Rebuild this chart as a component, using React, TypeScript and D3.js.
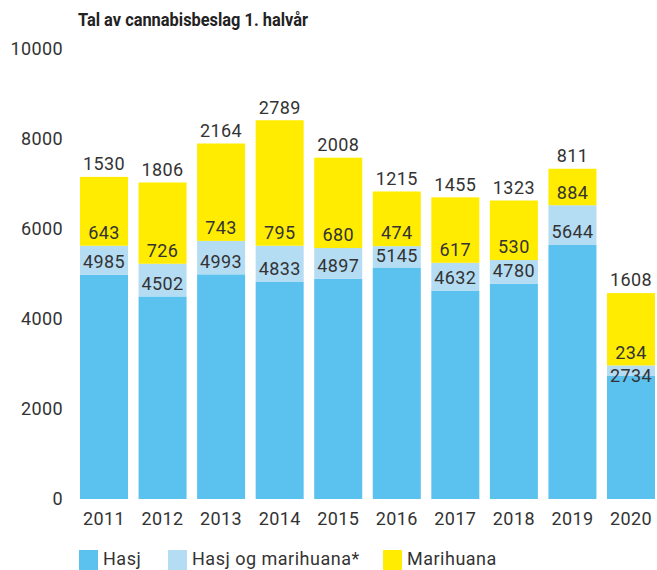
import React from 'react';
import * as d3 from 'd3';

const years = ['2011', '2012', '2013', '2014', '2015', '2016', '2017', '2018', '2019', '2020'];
const hasj = [4985, 4502, 4993, 4833, 4897, 5145, 4632, 4780, 5644, 2734];
const hasjOgMarihuana = [643, 726, 743, 795, 680, 474, 617, 530, 884, 234];
const marihuana = [1530, 1806, 2164, 2789, 2008, 1215, 1455, 1323, 811, 1608];
const yTicks = [0, 2000, 4000, 6000, 8000, 10000];
const seriesNames = ['Hasj', 'Hasj og marihuana*', 'Marihuana'];

const colors = ['#5bc2ef', '#b4dcf3', '#ffec00'];
const font = 'Roboto, "DejaVu Sans", sans-serif';
const textColor = '#333333';

export default function App() {
  const width = 657;
  const height = 570;

  const rows = years.map((y, i) => ({ year: y, a: hasj[i], b: hasjOgMarihuana[i], c: marihuana[i] }));
  const stack = d3.stack<any>().keys(['a', 'b', 'c']);
  const layers = stack(rows);

  const x = d3.scaleBand().domain(years).range([80, 655]).paddingInner(0.18).paddingOuter(0);
  const y = d3.scaleLinear().domain([0, 10000]).range([499, 49]);

  // legend swatch x positions
  const legendX = [79, 168, 383];

  return (
    <svg width={width} height={height} style={{ position: 'absolute', left: 0, top: 0 }}>
      <text x={78} y={26} fontFamily={font} fontWeight={700} fontSize={18} fill="#222"
        textLength={230} lengthAdjust="spacingAndGlyphs">
        Tal av cannabisbeslag 1. halvår
      </text>

      {yTicks.map(t => (
        <text key={t} x={63} y={y(t)} dy="0.35em" textAnchor="end" fontFamily={font} fontSize={18}
          letterSpacing={0.4} fill={textColor}>
          {t}
        </text>
      ))}

      {layers.map((layer, li) => (
        <g key={li} fill={colors[li]}>
          {layer.map((d, i) => (
            <rect key={i} x={x(years[i])} width={x.bandwidth()} y={y(d[1])} height={y(d[0]) - y(d[1])} />
          ))}
        </g>
      ))}

      {rows.map((r, i) => {
        const cx = (x(r.year) as number) + x.bandwidth() / 2;
        const hasjTop = y(r.a);
        const yellowBottom = y(r.a + r.b);
        const top = y(r.a + r.b + r.c);
        const midY = yellowBottom - 13;
        const hasjY = Math.max(hasjTop - 13, midY + 23);
        const topY = top - 13;
        const common = { textAnchor: 'middle' as const, fontFamily: font, fontSize: 18, fill: textColor, dy: '0.35em', letterSpacing: 0.4 };
        return (
          <g key={r.year}>
            <text x={cx} y={hasjY} {...common}>{r.a}</text>
            <text x={cx} y={midY} {...common}>{r.b}</text>
            <text x={cx} y={topY} {...common}>{r.c}</text>
            <text x={cx} y={519} {...common}>{r.year}</text>
          </g>
        );
      })}

      {seriesNames.map((name, i) => (
        <g key={name}>
          <rect x={legendX[i]} y={550} width={19} height={20} fill={colors[i]} />
          <text x={legendX[i] + 24} y={559} dy="0.35em" fontFamily={font} fontSize={18}
            letterSpacing={0.5} fill={textColor}>
            {name}
          </text>
        </g>
      ))}
    </svg>
  );
}
